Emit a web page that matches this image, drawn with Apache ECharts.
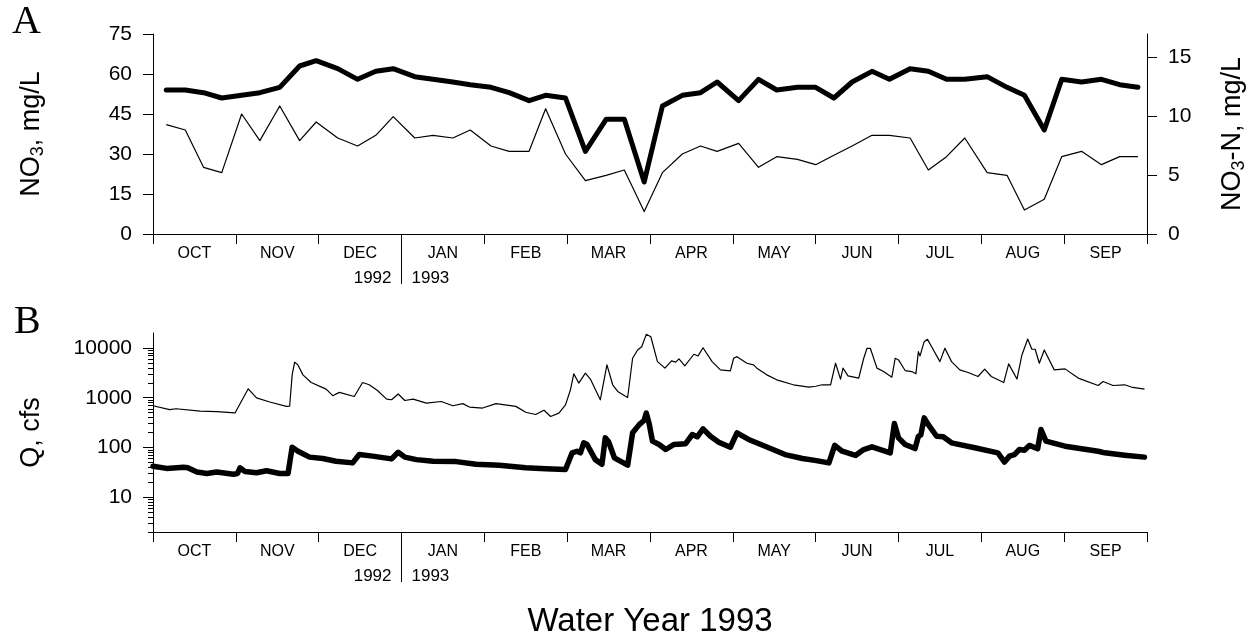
<!DOCTYPE html>
<html>
<head>
<meta charset="utf-8">
<title>Water Year 1993</title>
<script src="https://cdn.jsdelivr.net/npm/echarts@6/dist/echarts.min.js"></script>
<style>
  html, body { margin: 0; padding: 0; background: #fff; }
  #chart { width: 1252px; height: 634px; }
</style>
</head>
<body>
<div id="chart"></div>
<script>
// Month ticks of the water year (Oct 1992 - Sep 1993), x measured in months from Oct 1
const monthLabels = ['OCT', 'NOV', 'DEC', 'JAN', 'FEB', 'MAR', 'APR', 'MAY', 'JUN', 'JUL', 'AUG', 'SEP'];
const yearLabels = ['1992', '1993'];
const no3Ticks = [0, 15, 30, 45, 60, 75];
const no3nTicks = [0, 5, 10, 15];
const qTicks = [10, 100, 1000, 10000];

// Weekly nitrate samples (months since Oct 1)
const sampleMonth = [
  0.16, 0.39, 0.61, 0.83, 1.07, 1.29, 1.53, 1.77, 1.97, 2.23,
  2.47, 2.69, 2.90, 3.16, 3.38, 3.62, 3.83, 4.08, 4.30, 4.54,
  4.74, 4.98, 5.22, 5.47, 5.69, 5.93, 6.15, 6.39, 6.61, 6.81,
  7.07, 7.31, 7.53, 7.78, 8.00, 8.22, 8.44, 8.68, 8.89, 9.14,
  9.36, 9.58, 9.80, 10.07, 10.31, 10.52, 10.76, 10.97, 11.21, 11.45,
  11.67, 11.89
];
// NO3 in mg/L, tributary (heavy line)
const tributaryNO3 = [
  54, 54, 53, 51, 52, 53, 55, 63, 65, 62,
  58, 61, 62, 59, 58, 57, 56, 55, 53, 50,
  52, 51, 31, 43, 43, 19.5, 48, 52, 53, 57,
  50, 58, 54, 55, 55, 51, 57, 61, 58, 62,
  61, 58, 58, 59, 55, 52, 39, 58, 57, 58,
  56, 55
];
// NO3 in mg/L, main stem (light line)
const mainstemNO3 = [
  41, 39, 25, 23, 45, 35, 48, 35, 42, 36,
  33, 37, 44, 36, 37, 36, 39, 33, 31, 31,
  47, 30, 20, 22, 24, 8.4, 23, 30, 33, 31,
  34, 25, 29, 28, 26, 29.5, 33, 37, 37, 36,
  24, 29, 36, 23, 22, 9, 13, 29, 31, 26,
  29, 29
];

// Discharge, main stem (light line), cfs
const mainstemQMonth = [
  0.00, 0.20, 0.28, 0.57, 0.77, 0.99, 1.15, 1.25, 1.41, 1.61,
  1.65, 1.68, 1.71, 1.75, 1.81, 1.91, 2.09, 2.17, 2.25, 2.43,
  2.53, 2.61, 2.71, 2.82, 2.88, 2.96, 3.04, 3.14, 3.30, 3.48,
  3.62, 3.74, 3.82, 3.98, 4.14, 4.38, 4.50, 4.62, 4.72, 4.80,
  4.90, 4.98, 5.04, 5.08, 5.14, 5.22, 5.28, 5.40, 5.48, 5.55,
  5.61, 5.73, 5.79, 5.85, 5.90, 5.955, 6.01, 6.09, 6.18, 6.26,
  6.31, 6.35, 6.42, 6.53, 6.58, 6.64, 6.75, 6.85, 6.97, 7.01,
  7.05, 7.17, 7.25, 7.29, 7.41, 7.53, 7.73, 7.92, 8.00, 8.08,
  8.18, 8.24, 8.30, 8.33, 8.39, 8.52, 8.58, 8.62, 8.66, 8.74,
  8.82, 8.92, 8.96, 9.00, 9.08, 9.16, 9.21, 9.24, 9.26, 9.31,
  9.35, 9.40, 9.50, 9.56, 9.64, 9.74, 9.84, 9.96, 10.04, 10.12,
  10.27, 10.33, 10.43, 10.49, 10.56, 10.61, 10.65, 10.70, 10.76, 10.88,
  11.01, 11.17, 11.41, 11.47, 11.59, 11.73, 11.81, 11.97
];
const mainstemQ = [
  690, 575, 600, 540, 525, 495, 1510, 990, 820, 670,
  680, 2880, 5180, 4570, 2880, 2020, 1490, 1100, 1280, 1060,
  2020, 1820, 1400, 940, 910, 1190, 880, 940, 780, 840,
  690, 760, 650, 620, 760, 670, 510, 460, 560, 420,
  490, 720, 1450, 3020, 1970, 3120, 2370, 910, 4570, 1820,
  1340, 1010, 6220, 9120, 10600, 18800, 16800, 5320, 3930, 5500,
  5180, 6030, 4370, 7480, 6920, 10100, 5320, 3630, 3470, 6220,
  6700, 4940, 4570, 3930, 2880, 2290, 1820, 1640, 1700, 1820,
  1820, 4940, 2370, 3930, 2750, 2480, 6220, 9860, 9860, 3930,
  3360, 2590, 6220, 5750, 3520, 3360, 3020, 8430, 6920, 13400,
  14900, 10600, 5320, 9860, 5320, 3630, 3210, 2670, 3750, 2670,
  2020, 4790, 2370, 7240, 15100, 9420, 9420, 4940, 9120, 3630,
  3800, 2480, 1760, 2120, 1760, 1820, 1640, 1490
];

// Discharge, tributary (heavy line), cfs
const tributaryQMonth = [
  0.00, 0.165, 0.37, 0.42, 0.53, 0.65, 0.77, 0.97, 1.02, 1.05,
  1.11, 1.25, 1.37, 1.53, 1.63, 1.68, 1.75, 1.89, 2.05, 2.21,
  2.41, 2.49, 2.65, 2.88, 2.96, 3.04, 3.18, 3.38, 3.66, 3.90,
  4.18, 4.50, 4.74, 4.98, 5.06, 5.12, 5.16, 5.20, 5.24, 5.34,
  5.42, 5.46, 5.50, 5.57, 5.73, 5.79, 5.87, 5.93, 5.955, 5.99,
  6.03, 6.11, 6.19, 6.29, 6.43, 6.51, 6.57, 6.64, 6.73, 6.83,
  6.97, 7.05, 7.19, 7.39, 7.63, 7.84, 7.99, 8.16, 8.23, 8.32,
  8.48, 8.58, 8.68, 8.90, 8.95, 9.00, 9.08, 9.20, 9.24, 9.27,
  9.31, 9.36, 9.46, 9.54, 9.64, 9.92, 10.20, 10.28, 10.34, 10.40,
  10.46, 10.52, 10.58, 10.68, 10.72, 10.78, 11.01, 11.41, 11.49, 11.73,
  11.97
];
const tributaryQ = [
  42, 38, 40, 39, 32, 30, 32, 29, 30, 39,
  33, 31, 34, 30, 30, 101, 84, 64, 60, 53,
  49, 72, 67, 59, 80, 64, 57, 53, 52, 46,
  44, 39, 37.5, 36, 78, 84, 78, 124, 115, 57,
  46, 156, 130, 62, 44, 197, 288, 352, 494, 300,
  134, 115, 91, 115, 119, 182, 164, 237, 168, 128,
  101, 197, 145, 106, 72, 60, 55, 49, 110, 84,
  69, 91, 103, 78, 302, 156, 115, 95, 168, 180,
  393, 288, 168, 164, 124, 99, 78, 51, 67, 72,
  91, 88, 110, 94, 229, 134, 106, 84, 78, 70,
  64
];

// 14/62: mass of N in a nitrate ion, for the NO3-N scale
const N_PER_NO3 = 14 / 62;

const FONT = '"Liberation Sans", Arial, Helvetica, sans-serif';
const SERIF = '"Liberation Serif", "Times New Roman", serif';
const INK = '#000';

const PLOT_LEFT = 153;
const PLOT_RIGHT = 105;
const PLOT_WIDTH = 1252 - PLOT_LEFT - PLOT_RIGHT;

const zip = (xs, ys) => xs.map((x, i) => [x, ys[i]]);
const monthCenters = monthLabels.map((_, i) => i + 0.5);
const minorQTicks = [];
[1, 10, 100, 1000].forEach(d => {
  for (let k = 2; k <= 9; k++) minorQTicks.push(k * d);
});

function monthAxes(gridIndex, extra) {
  const main = Object.assign({
    type: 'value', gridIndex, position: 'bottom', min: 0, max: 12, interval: 1,
    axisLine: { show: true, onZero: false, lineStyle: { color: INK, width: 1 } },
    axisTick: { show: true, length: 10, lineStyle: { color: INK, width: 1 } },
    splitLine: { show: false },
    axisLabel: {
      customValues: monthCenters,
      formatter: v => monthLabels[Math.floor(v)],
      color: INK, fontFamily: FONT, fontSize: 16, margin: 12
    }
  }, extra || {});
  // calendar-year break between DEC and JAN
  const years = {
    type: 'value', gridIndex, position: 'bottom', min: 0, max: 12,
    axisLine: { show: false },
    axisTick: { show: true, customValues: [3], length: 50, lineStyle: { color: INK, width: 1 } },
    splitLine: { show: false },
    axisLabel: {
      customValues: [3],
      formatter: () => '{y|' + yearLabels[0] + '}{gap|}{y|' + yearLabels[1] + '}',
      rich: {
        y: { fontFamily: FONT, fontSize: 17, color: INK },
        gap: { width: 20 }
      },
      margin: 36
    }
  };
  return [main, years];
}

const nameStyle = {
  fontFamily: FONT, fontSize: 27, color: INK, lineHeight: 30,
  rich: {
    sub: { fontFamily: FONT, fontSize: 18, color: INK, lineHeight: 12, verticalAlign: 'bottom' }
  }
};

const valueLabel = { color: INK, fontFamily: FONT, fontSize: 21, margin: 21 };
const panelLetter = { fontFamily: SERIF, fontSize: 40, fontWeight: 'normal', color: INK };

const chart = echarts.init(document.getElementById('chart'), null, { renderer: 'canvas' });

chart.setOption({
  animation: false,
  backgroundColor: '#fff',
  title: [
    { text: 'A', left: 12, top: 2, padding: 0, textStyle: panelLetter },
    { text: 'B', left: 14, top: 302, padding: 0, textStyle: panelLetter }
  ],
  grid: [
    { left: PLOT_LEFT, right: PLOT_RIGHT, top: 34, height: 200, outerBoundsMode: 'none' },
    { left: PLOT_LEFT, right: PLOT_RIGHT, top: 333, height: 199, outerBoundsMode: 'none' }
  ],
  xAxis: [
    ...monthAxes(0),
    ...monthAxes(1, {
      name: 'Water Year 1993', nameLocation: 'middle', nameGap: 73,
      nameTextStyle: { fontFamily: FONT, fontSize: 33, color: INK }
    })
  ],
  yAxis: [
    {
      type: 'value', gridIndex: 0, position: 'left', min: 0, max: 75, interval: 15,
      axisLine: { show: true, lineStyle: { color: INK, width: 1 } },
      axisTick: { show: true, length: 10, customValues: no3Ticks, lineStyle: { color: INK } },
      axisLabel: Object.assign({ customValues: no3Ticks }, valueLabel),
      splitLine: { show: false },
      name: 'NO{sub|3}, mg/L', nameLocation: 'middle', nameRotate: 90, nameGap: 106,
      nameTextStyle: nameStyle
    },
    {
      // NO3-N scale: labels and title on the right edge
      type: 'value', gridIndex: 0, position: 'right', min: 0, max: 75 * N_PER_NO3,
      axisLine: { show: false },
      axisTick: { show: false },
      axisLabel: Object.assign({ customValues: no3nTicks }, valueLabel),
      splitLine: { show: false },
      name: 'NO{sub|3}-N, mg/L', nameLocation: 'middle', nameRotate: 90, nameGap: 71,
      nameTextStyle: nameStyle
    },
    {
      type: 'log', logBase: 10, gridIndex: 1, position: 'left', min: 2, max: 20000,
      axisLine: { show: true, lineStyle: { color: INK, width: 1 } },
      axisTick: { show: true, length: 10, customValues: qTicks, lineStyle: { color: INK } },
      axisLabel: Object.assign({ customValues: qTicks, formatter: v => String(Math.round(v)) }, valueLabel),
      splitLine: { show: false },
      name: 'Q, cfs', nameLocation: 'middle', nameRotate: 90, nameGap: 106,
      nameTextStyle: nameStyle
    },
    {
      // minor log ticks
      type: 'log', logBase: 10, gridIndex: 1, position: 'left', min: 2, max: 20000,
      axisLine: { show: false },
      axisTick: { show: true, length: 5, customValues: minorQTicks, lineStyle: { color: INK } },
      axisLabel: { show: false },
      splitLine: { show: false }
    },
    {
      // NO3-N axis line and tick marks along the right edge, ticks pointing outward
      type: 'value', gridIndex: 0, position: 'left', offset: -PLOT_WIDTH,
      min: 0, max: 75 * N_PER_NO3,
      axisLine: { show: true, lineStyle: { color: INK, width: 1 } },
      axisTick: { show: true, inside: true, length: 10, customValues: no3nTicks, lineStyle: { color: INK } },
      axisLabel: { show: false },
      splitLine: { show: false }
    }
  ],
  series: [
    {
      type: 'line', name: 'Tributary NO3', xAxisIndex: 0, yAxisIndex: 0,
      data: zip(sampleMonth, tributaryNO3), showSymbol: false, symbol: 'none',
      lineStyle: { color: INK, width: 5, join: 'round', cap: 'round' }, z: 3
    },
    {
      type: 'line', name: 'Main stem NO3', xAxisIndex: 0, yAxisIndex: 0,
      data: zip(sampleMonth, mainstemNO3), showSymbol: false, symbol: 'none',
      lineStyle: { color: INK, width: 1.2, join: 'round' }, z: 2
    },
    {
      type: 'line', name: 'Main stem Q', xAxisIndex: 2, yAxisIndex: 2,
      data: zip(mainstemQMonth, mainstemQ), showSymbol: false, symbol: 'none',
      lineStyle: { color: INK, width: 1.2, join: 'round' }, z: 2
    },
    {
      type: 'line', name: 'Tributary Q', xAxisIndex: 2, yAxisIndex: 2,
      data: zip(tributaryQMonth, tributaryQ), showSymbol: false, symbol: 'none',
      lineStyle: { color: INK, width: 5.5, join: 'round', cap: 'round' }, z: 3
    }
  ]
});
</script>
</body>
</html>
